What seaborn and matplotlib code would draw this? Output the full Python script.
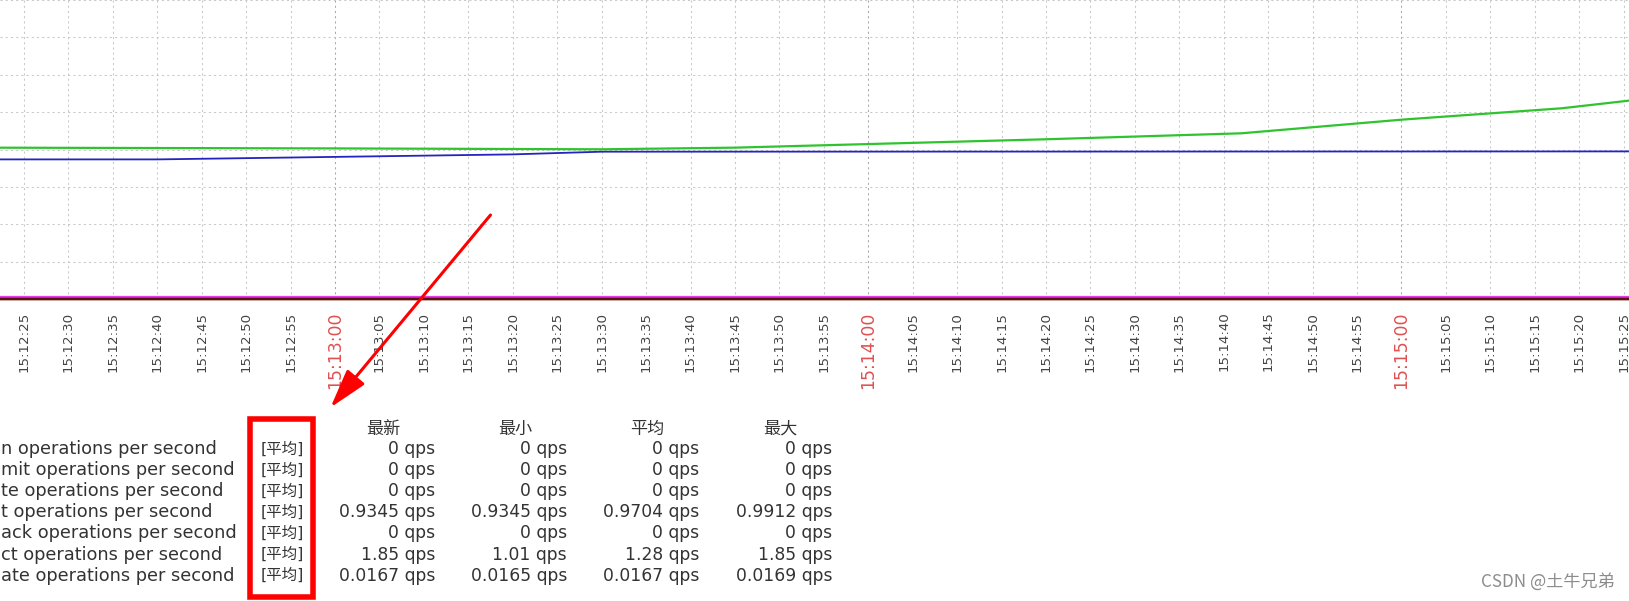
import pandas as pd
import matplotlib
matplotlib.use("Agg")
import matplotlib.pyplot as plt
import matplotlib.dates as mdates
from matplotlib.patches import Rectangle, FancyArrowPatch
import seaborn as sns

W, H = 1629, 601
day = "2022-01-01 "

# values (qps)
insert_times = ["15:12:20", "15:12:40", "15:13:20", "15:13:30", "15:15:30"]
insert_vals = [0.9345, 0.9345, 0.968, 0.986, 0.988]
select_times = ["15:12:20", "15:13:00", "15:13:30", "15:13:45", "15:14:20",
                "15:14:42", "15:15:00", "15:15:18", "15:15:26"]
select_vals = [1.013, 1.008, 1.002, 1.013, 1.069, 1.109, 1.20, 1.276, 1.33]
update_times = ["15:12:20", "15:15:30"]
update_vals = [0.0167, 0.0167]
zero_times = ["15:12:20", "15:15:30"]
zero_vals = [0, 0]

# legend table (names are cut by the left edge of the screenshot)
names = ["n operations per second", "mit operations per second",
         "te operations per second", "t operations per second",
         "ack operations per second", "ct operations per second",
         "ate operations per second"]
func_label = "[平均]"
col_heads = ["最新", "最小", "平均", "最大"]
last_vals = [0, 0, 0, 0.9345, 0, 1.85, 0.0167]
min_vals = [0, 0, 0, 0.9345, 0, 1.01, 0.0165]
avg_vals = [0, 0, 0, 0.9704, 0, 1.28, 0.0167]
max_vals = [0, 0, 0, 0.9912, 0, 1.85, 0.0169]

def ts(lst):
    return pd.to_datetime([day + t for t in lst])

sns.set_style("white")
fam = ["DejaVu Sans", "Noto Sans CJK SC"]
plt.rcParams['font.family'] = fam

fig = plt.figure(figsize=(W / 100, H / 100), dpi=100)
ax = fig.add_axes([0, 1 - 299.2 / H, 1, 299.2 / H])

# zero-valued series (begin, commit, delete, rollback) + update
sns.lineplot(x=ts(update_times), y=update_vals, color="#e83ce8", lw=1.6, ax=ax, clip_on=False)
for c in ["#c80000", "#8a1a00", "#6a2000", "#5a1414"]:
    sns.lineplot(x=ts(zero_times), y=zero_vals, color=c, lw=1.6, ax=ax, clip_on=False)
sns.lineplot(x=ts(insert_times), y=insert_vals, color="#2424c0", lw=1.3, ax=ax)
sns.lineplot(x=ts(select_times), y=select_vals, color="#2fc42f", lw=1.6, ax=ax)

ax.set_xlim(pd.Timestamp(day + "15:12:22.3"), pd.Timestamp(day + "15:15:25.6"))
ax.set_ylim(0, 2.0)
ax.set_xlabel("")
ax.set_ylabel("")
ax.set_yticks([i * 0.25 for i in range(9)])
ax.set_yticklabels([])
ax.xaxis.set_major_locator(mdates.SecondLocator(bysecond=range(0, 60, 5)))
ax.xaxis.set_major_formatter(mdates.DateFormatter("%H:%M:%S"))
ax.tick_params(axis="x", length=0, pad=9, labelsize=9.6, labelcolor="#444444", rotation=90)
ax.tick_params(axis="y", length=0)
ax.grid(True, color="#c8c8c8", linestyle=(0, (2, 3)), linewidth=0.75)
for s in ax.spines.values():
    s.set_visible(False)

fig.canvas.draw()
for lab, gl in zip(ax.get_xticklabels(), ax.get_xgridlines()):
    if lab.get_text().endswith(":00"):
        lab.set_color("#e05050")
        lab.set_fontsize(12.5)
        gl.set_color("#a8a8a8")

def fx(x):
    return x / W

def fy(y):
    return 1 - y / H

fs = 12.3
tc = "#333333"
row_y = [449 + 21.1 * i for i in range(len(names))]

for i, n in enumerate(names):
    fig.text(fx(1), fy(row_y[i]), n, fontsize=12.8, color=tc, va="center", ha="left")
    fig.text(fx(282), fy(row_y[i]), func_label, fontsize=11.2, color=tc, va="center", ha="center")

col_right = [435, 567, 699, 832]
col_mid = [383, 515, 647, 780]
for j, (h, vals) in enumerate(zip(col_heads, [last_vals, min_vals, avg_vals, max_vals])):
    fig.text(fx(col_mid[j]), fy(429), h, fontsize=fs, color=tc, va="center", ha="center")
    for i, v in enumerate(vals):
        fig.text(fx(col_right[j]), fy(row_y[i]), f"{v:g} qps", fontsize=fs, color=tc,
                 va="center", ha="right")

# red annotation box and arrow
fig.patches.append(Rectangle((fx(249.5), fy(597)), fx(313) - fx(249.5), fy(418.8) - fy(597),
                             transform=fig.transFigure, fill=False, edgecolor="#ff0000", lw=4))
fig.patches.append(FancyArrowPatch((fx(490.5), fy(215)), (fx(330.5), fy(407.5)),
                                   transform=fig.transFigure, color="#ff0000", lw=2.2,
                                   arrowstyle="-|>,head_length=24,head_width=7",
                                   mutation_scale=1, shrinkA=0, shrinkB=0))

fig.text(fx(1615), fy(582), "CSDN @土牛兄弟", fontsize=12.3, color="#8c8c8c",
         ha="right", va="center", family=["Noto Sans CJK SC", "DejaVu Sans"])

fig.savefig("out.png", dpi=100)
